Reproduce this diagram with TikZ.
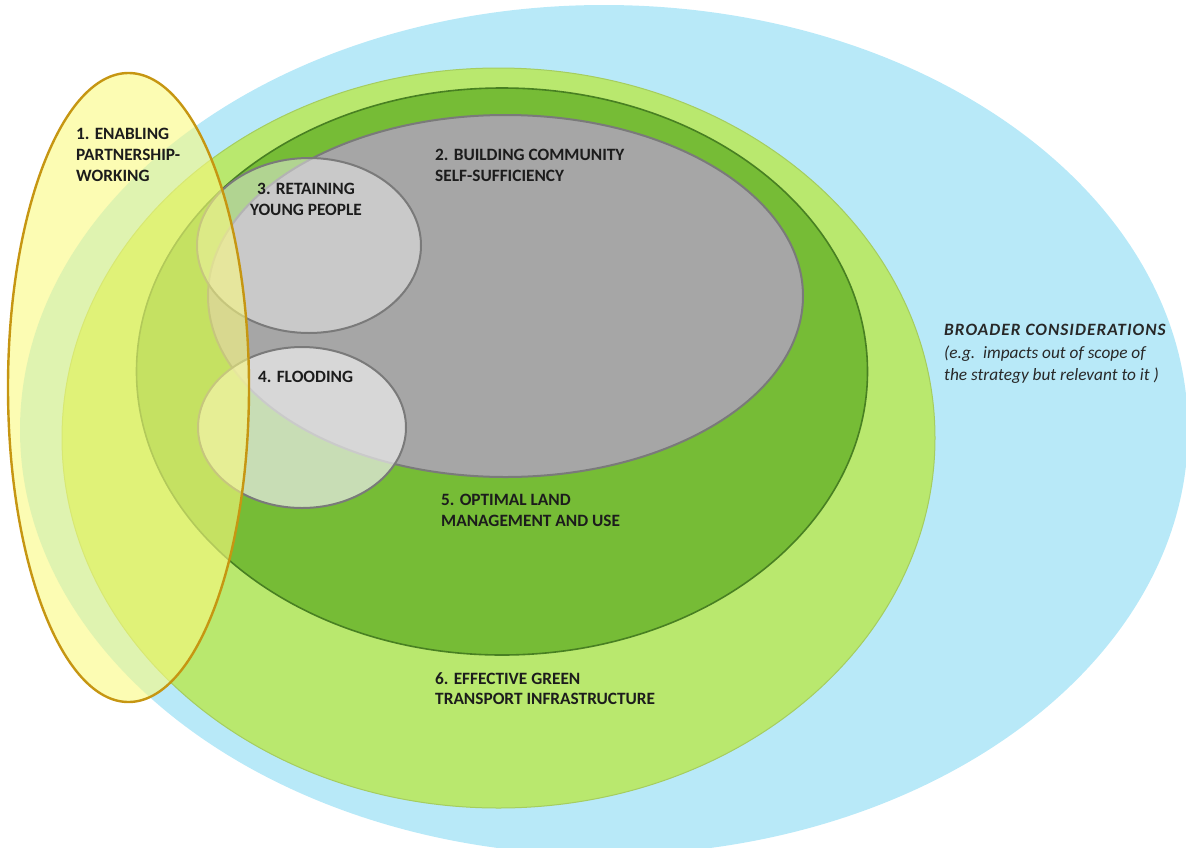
\documentclass[tikz,border=0pt]{standalone}
\usepackage{fontspec}
\setmainfont{Carlito}
\usetikzlibrary{shapes.geometric}

\definecolor{skyfill}{RGB}{184,233,248}
\definecolor{limefill}{RGB}{185,232,110}
\definecolor{limeline}{RGB}{165,205,95}
\definecolor{leaffill}{RGB}{118,188,54}
\definecolor{leafline}{RGB}{72,128,34}
\definecolor{stonefill}{RGB}{166,166,166}
\definecolor{stoneline}{RGB}{122,122,122}
\definecolor{paleyellow}{RGB}{250,250,128}
\definecolor{goldline}{RGB}{198,150,18}
\definecolor{inktext}{RGB}{28,28,28}
\definecolor{softtext}{RGB}{40,40,40}

% multi-line labels are placed by the baseline of their last line
\tikzset{
  region/.style={ellipse, inner sep=0pt, outer sep=0pt},
  label text/.style={font=\bfseries\fontsize{17.3}{21}\selectfont, text=inktext,
    inner sep=0pt, align=left, anchor=base west},
}

\begin{document}
\begin{tikzpicture}[x=1pt,y=-1pt]
  \useasboundingbox (0,0) rectangle (1186,847);
  \clip (0,0) rectangle (1186,847);

  % nested areas, outermost first
  \node[region, fill=skyfill, minimum width=1168pt, minimum height=850pt]
    (broader) at (604,430) {};
  \node[region, fill=limefill, draw=limeline, line width=1pt,
    minimum width=873pt, minimum height=740pt] (transport) at (498.5,438) {};
  \node[region, fill=leaffill, draw=leafline, line width=1.6pt,
    minimum width=731pt, minimum height=567pt] (land) at (502,371.5) {};
  \node[region, fill=stonefill, draw=stoneline, line width=2pt,
    minimum width=595pt, minimum height=362pt] (community) at (505.5,296) {};

  % the two smaller themes inside community self-sufficiency
  \node[region, fill=gray!15, fill opacity=0.5, draw=stoneline, line width=2pt,
    minimum width=224pt, minimum height=175pt] (young) at (309,245.5) {};
  \node[region, fill=gray!15, fill opacity=0.7, draw=stoneline, line width=2pt,
    minimum width=208pt, minimum height=161pt] (flooding) at (302,427.5) {};

  % partnership working cuts across all the others
  \node[region, fill=paleyellow, fill opacity=0.6, draw=goldline, line width=2.4pt,
    minimum width=241pt, minimum height=629pt] (partnership) at (128.5,387.5) {};

  % labels
  \node[label text] (t1) at (76,181.5) {1. ENABLING\\PARTNERSHIP-\\WORKING};
  \node[label text] (t2) at (435,181.5) {2. BUILDING COMMUNITY\\SELF-SUFFICIENCY};
  \node[label text, align=center, anchor=base] (t3) at (306,215.5) {3. RETAINING\\YOUNG PEOPLE};
  \node[label text] (t4) at (258,382.5) {4. FLOODING};
  \node[label text] (t5) at (441,526.5) {5. OPTIMAL LAND\\MANAGEMENT AND USE};
  \node[label text, font=\bfseries\fontsize{17.3}{20}\selectfont] (t6) at (435,704.5)
    {6. EFFECTIVE GREEN\\TRANSPORT INFRASTRUCTURE};
  \node[label text, text=softtext, font=\fontsize{17.3}{22.5}\selectfont\itshape] (t7) at (944,380.5)
    {{\bfseries\addfontfeature{LetterSpace=6}BROADER CONSIDERATIONS}\\(e.g.\ \ impacts out of scope of\\the strategy but relevant to it )};
\end{tikzpicture}
\end{document}
